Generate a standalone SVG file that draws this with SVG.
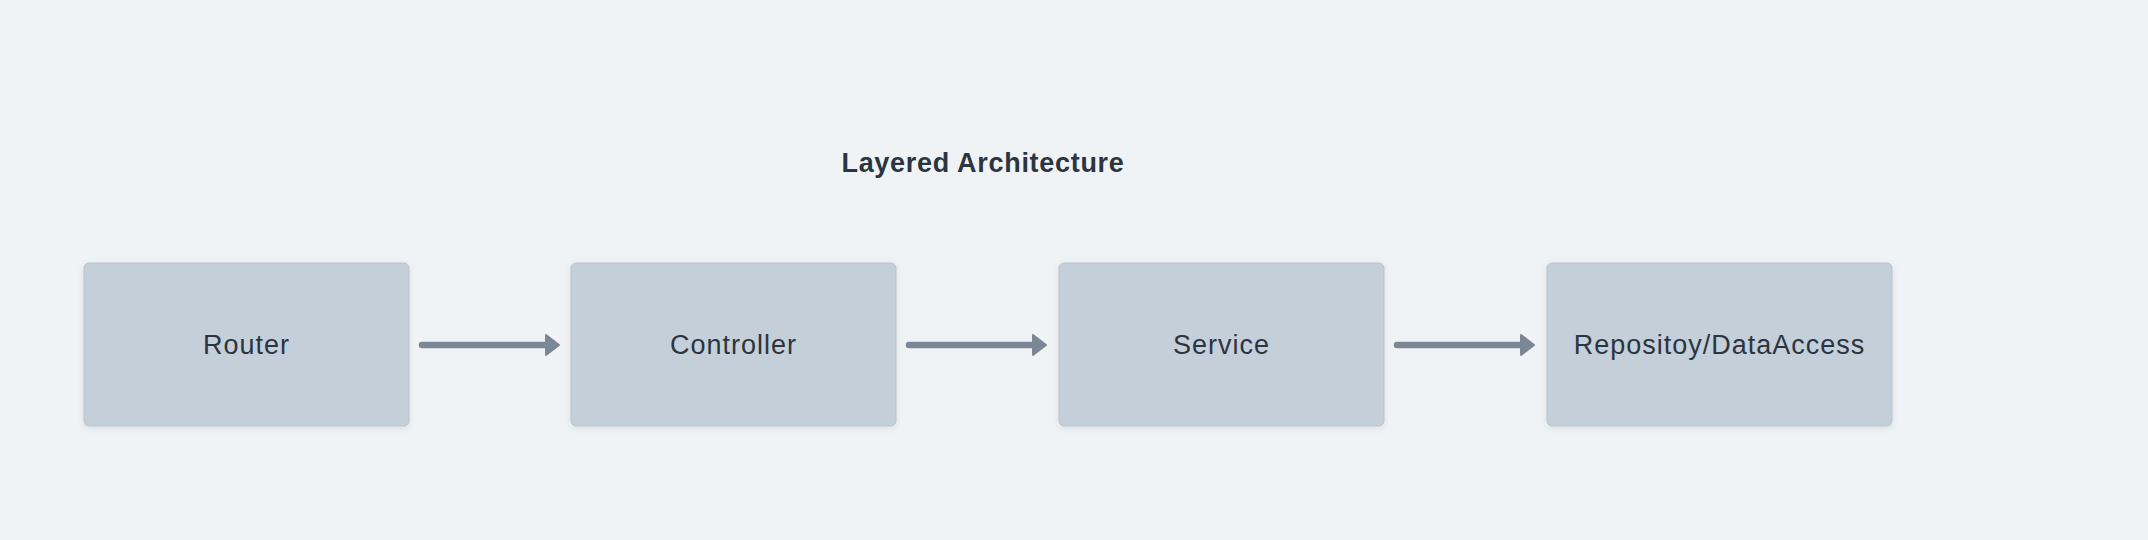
<svg xmlns="http://www.w3.org/2000/svg" width="2148" height="540" viewBox="0 0 2148 540">
  <defs>
    <filter id="sh" x="-10%" y="-10%" width="120%" height="130%">
      <feDropShadow dx="0" dy="2" stdDeviation="3" flood-color="#000" flood-opacity="0.08"/>
    </filter>
    <style>
      .box { fill: #c5cfd9; stroke: #b9c3cd; stroke-width: 1; filter: url(#sh); }
      .lbl { font-family: "Liberation Sans", "DejaVu Sans", sans-serif; font-size: 27px; letter-spacing: 1px; fill: #2b3541; text-anchor: middle; dominant-baseline: central; }
      .title { font-family: "Liberation Sans", "DejaVu Sans", sans-serif; font-size: 27px; letter-spacing: 0.7px; font-weight: bold; fill: #2b3541; text-anchor: middle; dominant-baseline: central; }
      .edge { stroke: #7b8794; stroke-width: 6.5; stroke-linecap: round; fill: none; }
      .head { fill: #7b8794; stroke: #7b8794; stroke-width: 2; stroke-linejoin: round; }
    </style>
  </defs>
  <rect width="2148" height="540" fill="#eff3f6"/>
  <text class="title" x="983" y="163">Layered Architecture</text>
  <g id="connectors">
    <line class="edge" x1="422" y1="345" x2="547" y2="345"/>
    <polygon class="head" points="546,335 559,345 546,355"/>
    <line class="edge" x1="909" y1="345" x2="1034" y2="345"/>
    <polygon class="head" points="1033,335 1046,345 1033,355"/>
    <line class="edge" x1="1397" y1="345" x2="1522" y2="345"/>
    <polygon class="head" points="1521,335 1534,345 1521,355"/>
  </g>
  <g id="router">
    <rect class="box" x="84" y="263" width="325" height="163" rx="5"/>
    <text class="lbl" x="246.5" y="345">Router</text>
  </g>
  <g id="controller">
    <rect class="box" x="571" y="263" width="325" height="163" rx="5"/>
    <text class="lbl" x="733.5" y="345">Controller</text>
  </g>
  <g id="service">
    <rect class="box" x="1059" y="263" width="325" height="163" rx="5"/>
    <text class="lbl" x="1221.5" y="345">Service</text>
  </g>
  <g id="repository">
    <rect class="box" x="1547" y="263" width="345" height="163" rx="5"/>
    <text class="lbl" x="1719.5" y="345">Repositoy/DataAccess</text>
  </g>
</svg>
